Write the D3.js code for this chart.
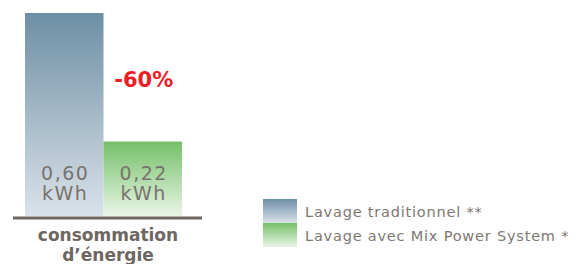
<!DOCTYPE html>
<html>
<head>
<meta charset="utf-8">
<script src="https://cdn.jsdelivr.net/npm/d3@7"></script>
<style>
  body { margin: 0; background: #fff; }
  svg { display: block; }
</style>
</head>
<body>
<svg id="chart" width="578" height="264"></svg>
<script>
// data
var categories = ["consommation d\u2019énergie"];
var series = ["Lavage traditionnel **", "Lavage avec Mix Power System *"];
var values = [0.60, 0.22];
var valueLabels = ["0,60", "0,22"];
var unit = "kWh";
var diffLabel = "-60%";

var colors = [
  { top: "#6e8fa5", bottom: "#dae2ea" },
  { top: "#74c068", bottom: "#eaf5e7" }
];

var svg = d3.select("#chart");
var defs = svg.append("defs");

colors.forEach(function(c, i){
  var g = defs.append("linearGradient")
    .attr("id", "grad" + i)
    .attr("x1", 0).attr("y1", 0).attr("x2", 0).attr("y2", 1);
  g.append("stop").attr("offset", "0%").attr("stop-color", c.top);
  g.append("stop").attr("offset", "100%").attr("stop-color", c.bottom);
});

var baseY = 216;
var y = d3.scaleLinear().domain([0, 0.6]).range([baseY, 13]);
var x = d3.scaleBand().domain(series).range([25, 182]).padding(0);

// bars
svg.selectAll("rect.bar").data(values).enter().append("rect")
  .attr("class", "bar")
  .attr("x", function(d, i){ return x(series[i]); })
  .attr("width", x.bandwidth())
  .attr("y", function(d){ return y(d); })
  .attr("height", function(d){ return baseY - y(d); })
  .attr("fill", function(d, i){ return "url(#grad" + i + ")"; });

// value labels (two lines: number, unit)
var lines = [
  { y: 180, text: function(d, i){ return valueLabels[i]; } },
  { y: 200, text: function(){ return unit; } }
];
lines.forEach(function(l){
  svg.selectAll(null).data(values).enter().append("text")
    .attr("x", function(d, i){ return x(series[i]) + x.bandwidth() / 2 + 1; })
    .attr("y", l.y)
    .attr("text-anchor", "middle")
    .attr("font-family", "'DejaVu Sans', sans-serif")
    .attr("font-size", 19)
    .attr("letter-spacing", 1.5)
    .attr("fill", "#78726d")
    .text(l.text);
});

// difference label
svg.append("text")
  .attr("x", x(series[1]) + x.bandwidth() / 2 + 1)
  .attr("y", 87)
  .attr("text-anchor", "middle")
  .attr("font-family", "'DejaVu Sans', sans-serif")
  .attr("font-weight", "bold")
  .attr("font-size", 21)
  .attr("fill", "#ee1c25")
  .text(diffLabel);

// baseline
svg.append("line")
  .attr("x1", 13).attr("x2", 202)
  .attr("y1", baseY + 2).attr("y2", baseY + 2)
  .attr("stroke", "#6e6660").attr("stroke-width", 3);

// category label
var words = categories[0].split(" ");
svg.selectAll(null).data(words).enter().append("text")
  .attr("x", 108)
  .attr("y", function(d, i){ return 241 + i * 20; })
  .attr("text-anchor", "middle")
  .attr("font-family", "'DejaVu Sans', sans-serif")
  .attr("font-weight", "bold")
  .attr("font-size", 17)
  .attr("fill", "#6e6761")
  .text(function(d){ return d; });

// legend
var legend = svg.selectAll("g.legend").data(series).enter().append("g")
  .attr("class", "legend")
  .attr("transform", function(d, i){ return "translate(263," + (199 + i * 24) + ")"; });
legend.append("rect")
  .attr("width", 34).attr("height", 24)
  .attr("fill", function(d, i){ return "url(#grad" + i + ")"; });
legend.append("text")
  .attr("x", 42).attr("y", 18)
  .attr("font-family", "'DejaVu Sans', sans-serif")
  .attr("font-size", 14.5)
  .attr("letter-spacing", 0.8)
  .attr("fill", "#7d7772")
  .text(function(d){ return d; });
</script>
</body>
</html>
